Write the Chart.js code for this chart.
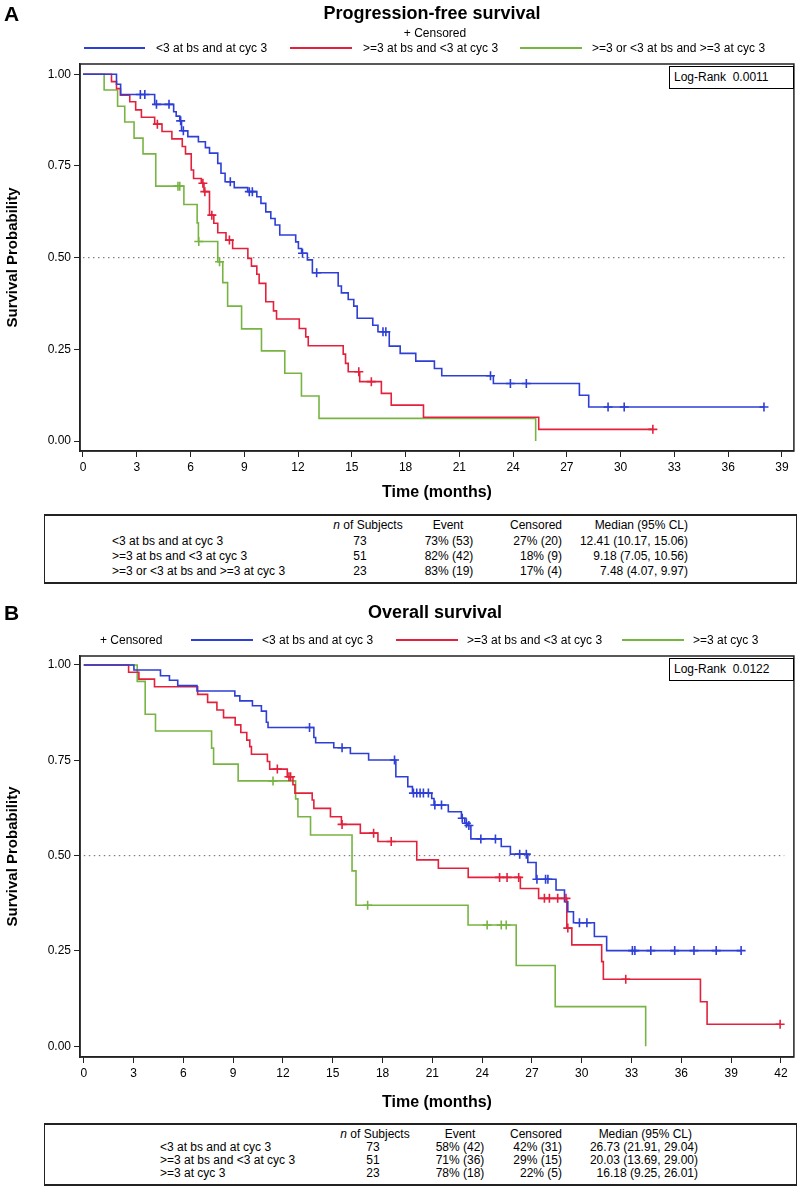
<!DOCTYPE html>
<html><head><meta charset="utf-8">
<script src="https://cdn.jsdelivr.net/npm/chart.js@4.4.1/dist/chart.umd.min.js"></script>
<style>
body{margin:0;background:#fff;font-family:Arial,"Liberation Sans",Helvetica,sans-serif;color:#000}
#page{position:relative;width:800px;height:1187px;overflow:hidden;background:#fff}
canvas{position:absolute;left:0}
.t{position:absolute;white-space:nowrap;line-height:1;font-size:12px}
.c{transform:translate(-50%,-50%)}
.l{transform:translateY(-50%)}
.r{transform:translate(-100%,-50%)}
.ttl{font-weight:bold;font-size:18px}
.pl{font-weight:bold;font-size:21px}
.ln{position:absolute;height:2px}
.box{position:absolute;border:1px solid #000;background:#fff}
.tbl{position:absolute;border:1.5px solid #222;border-top-width:2px;border-bottom-width:2px;box-sizing:border-box}
</style></head>
<body><div id="page">
<canvas id="cA" width="800" height="510" style="top:0"></canvas>
<canvas id="cB" width="800" height="530" style="top:592px"></canvas>

<!-- Panel A texts -->
<div class="t pl l" style="left:4px;top:13px">A</div>
<div class="t ttl c" style="left:432px;top:13px">Progression-free survival</div>
<div class="t c" style="left:435px;top:33px">+ Censored</div>
<div class="ln" style="left:84px;width:61px;top:47px;background:#2e3fd6"></div>
<div class="t l" style="left:156px;top:48px">&lt;3 at bs and at cyc 3</div>
<div class="ln" style="left:290px;width:62px;top:47px;background:#e3213c"></div>
<div class="t l" style="left:363px;top:48px">&gt;=3 at bs and &lt;3 at cyc 3</div>
<div class="ln" style="left:520px;width:62px;top:47px;background:#78b443"></div>
<div class="t l" style="left:592px;top:48px">&gt;=3 or &lt;3 at bs and &gt;=3 at cyc 3</div>
<div class="box" style="left:669px;top:66px;width:123px;height:21px"></div>
<div class="t l" style="left:674px;top:77px">Log-Rank&nbsp;&nbsp;0.0011</div>

<div class="tbl" style="left:44px;top:514px;width:753px;height:70px"></div>
<div class="t c" style="left:368px;top:525px"><i>n</i> of Subjects</div>
<div class="t c" style="left:448px;top:525px">Event</div>
<div class="t r" style="left:562px;top:525px">Censored</div>
<div class="t r" style="left:688px;top:525px">Median (95% CL)</div>
<div class="t l" style="left:112px;top:541px">&lt;3 at bs and at cyc 3</div>
<div class="t c" style="left:360px;top:541px">73</div>
<div class="t c" style="left:449px;top:541px">73% (53)</div>
<div class="t r" style="left:562px;top:541px">27% (20)</div>
<div class="t r" style="left:688px;top:541px">12.41 (10.17, 15.06)</div>
<div class="t l" style="left:112px;top:556px">&gt;=3 at bs and &lt;3 at cyc 3</div>
<div class="t c" style="left:360px;top:556px">51</div>
<div class="t c" style="left:449px;top:556px">82% (42)</div>
<div class="t r" style="left:562px;top:556px">18% (9)</div>
<div class="t r" style="left:688px;top:556px">9.18 (7.05, 10.56)</div>
<div class="t l" style="left:112px;top:571px">&gt;=3 or &lt;3 at bs and &gt;=3 at cyc 3</div>
<div class="t c" style="left:360px;top:571px">23</div>
<div class="t c" style="left:449px;top:571px">83% (19)</div>
<div class="t r" style="left:562px;top:571px">17% (4)</div>
<div class="t r" style="left:688px;top:571px">7.48 (4.07, 9.97)</div>

<!-- Panel B texts -->
<div class="t pl l" style="left:4px;top:612px">B</div>
<div class="t ttl c" style="left:435px;top:612px">Overall survival</div>
<div class="t l" style="left:100px;top:640px">+ Censored</div>
<div class="ln" style="left:191px;width:62px;top:639px;background:#2e3fd6"></div>
<div class="t l" style="left:262px;top:640px">&lt;3 at bs and at cyc 3</div>
<div class="ln" style="left:396px;width:62px;top:639px;background:#e3213c"></div>
<div class="t l" style="left:467px;top:640px">&gt;=3 at bs and &lt;3 at cyc 3</div>
<div class="ln" style="left:622px;width:62px;top:639px;background:#78b443"></div>
<div class="t l" style="left:693px;top:640px">&gt;=3 at cyc 3</div>
<div class="box" style="left:669px;top:658px;width:123px;height:21px"></div>
<div class="t l" style="left:674px;top:669px">Log-Rank&nbsp;&nbsp;0.0122</div>

<div class="tbl" style="left:44px;top:1123px;width:753px;height:63px"></div>
<div class="t c" style="left:375px;top:1134px"><i>n</i> of Subjects</div>
<div class="t c" style="left:460px;top:1134px">Event</div>
<div class="t r" style="left:562px;top:1134px">Censored</div>
<div class="t r" style="left:692px;top:1134px">Median (95% CL)</div>
<div class="t l" style="left:160px;top:1147px">&lt;3 at bs and at cyc 3</div>
<div class="t c" style="left:373px;top:1147px">73</div>
<div class="t c" style="left:460px;top:1147px">58% (42)</div>
<div class="t r" style="left:562px;top:1147px">42% (31)</div>
<div class="t r" style="left:698px;top:1147px">26.73 (21.91, 29.04)</div>
<div class="t l" style="left:160px;top:1160px">&gt;=3 at bs and &lt;3 at cyc 3</div>
<div class="t c" style="left:373px;top:1160px">51</div>
<div class="t c" style="left:460px;top:1160px">71% (36)</div>
<div class="t r" style="left:562px;top:1160px">29% (15)</div>
<div class="t r" style="left:698px;top:1160px">20.03 (13.69, 29.00)</div>
<div class="t l" style="left:160px;top:1173px">&gt;=3 at cyc 3</div>
<div class="t c" style="left:373px;top:1173px">23</div>
<div class="t c" style="left:460px;top:1173px">78% (18)</div>
<div class="t r" style="left:562px;top:1173px">22% (5)</div>
<div class="t r" style="left:698px;top:1173px">16.18 (9.25, 26.01)</div>
</div>

<script>
// ---------- Tick labels ----------
const pfsTicksX = [0,3,6,9,12,15,18,21,24,27,30,33,36,39];
const osTicksX  = [0,3,6,9,12,15,18,21,24,27,30,33,36,39,42];
const yTickVals = [0,0.25,0.5,0.75,1];

// ---------- Panel A: Progression-free survival ----------
const pfsBlueT = [0,1.87,2.1,4.0,5.06,5.2,5.4,5.5,5.85,6.44,6.83,7.06,7.52,7.7,7.93,8.44,9.19,9.7,9.93,10.2,10.48,10.72,10.98,11.87,12.02,12.2,12.52,12.8,14.24,14.42,14.8,15.11,15.3,16.17,16.46,17.09,17.7,18.57,19.61,20.02,22.9,27.7,28.22,38.0];
const pfsBlueS = [1,0.973,0.945,0.918,0.898,0.886,0.873,0.846,0.83,0.816,0.80,0.785,0.757,0.73,0.707,0.691,0.68,0.666,0.648,0.625,0.607,0.589,0.562,0.543,0.525,0.512,0.494,0.459,0.423,0.404,0.386,0.368,0.335,0.316,0.298,0.259,0.239,0.218,0.198,0.178,0.157,0.125,0.093,0.093];
const pfsBlueCens = [3.2,3.45,4.1,4.8,5.45,5.6,8.22,9.28,9.45,12.25,13.04,16.74,16.9,22.74,23.85,24.74,29.3,30.2,38.0];

const pfsRedT = [0,1.59,1.87,2.09,2.61,2.94,3.26,4.0,4.41,4.96,5.54,5.72,6.04,6.17,6.6,6.75,7.06,7.3,7.52,7.98,8.35,9.2,9.4,9.7,9.83,10.2,10.63,10.8,12.07,12.43,12.57,14.52,14.65,14.8,15.44,16.65,17.2,19.0,25.43,31.8];
const pfsRedS = [1,0.98,0.961,0.943,0.925,0.903,0.883,0.864,0.844,0.824,0.803,0.783,0.739,0.716,0.703,0.68,0.616,0.594,0.568,0.548,0.525,0.498,0.477,0.455,0.43,0.38,0.355,0.333,0.307,0.284,0.26,0.237,0.212,0.189,0.162,0.130,0.098,0.065,0.032,0.032];
const pfsRedCens = [4.15,6.69,6.8,7.19,8.17,15.39,16.09,31.8];

const pfsGreenT = [0,1.18,1.93,2.33,2.85,3.35,4.06,5.63,6.37,6.44,7.52,7.8,8.07,8.85,9.96,11.26,12.19,13.17,25.26];
const pfsGreenS = [1,0.957,0.913,0.870,0.826,0.783,0.695,0.645,0.595,0.544,0.489,0.432,0.368,0.306,0.246,0.185,0.123,0.062,0.0];
const pfsGreenCens = [5.3,5.4,6.46,7.62];

// ---------- Panel B: Overall survival ----------
const osBlueT = [0,3.02,4.62,5.16,5.66,6.82,9.1,9.4,10.16,10.7,11.0,11.1,13.86,13.97,15.06,16.06,17.16,18.8,19.52,19.8,20.96,21.1,21.96,22.75,22.95,23.1,23.32,25.15,25.7,26.75,27.25,28.45,28.96,29.16,29.5,30.76,31.5,39.6];
const osBlueS = [1,0.987,0.972,0.96,0.946,0.932,0.919,0.906,0.893,0.879,0.85,0.836,0.81,0.796,0.783,0.768,0.751,0.707,0.681,0.664,0.65,0.633,0.615,0.598,0.585,0.579,0.544,0.524,0.504,0.482,0.438,0.41,0.379,0.353,0.324,0.288,0.251,0.251];
const osBlueCens = [13.6,15.56,18.72,19.86,20.06,20.26,20.46,20.76,21.15,21.55,22.8,23.05,23.2,23.92,24.8,26.26,26.66,27.3,27.82,27.96,29.86,30.31,33.05,33.2,34.16,35.6,36.76,38.1,39.6];

const osRedT = [0,2.7,3.32,4.26,6.86,7.46,8.02,8.42,9.12,9.46,9.82,10.0,10.1,11.06,11.2,12.26,12.6,12.72,13.76,13.86,14.86,15.52,16.66,17.72,20.06,21.36,23.16,26.3,27.4,29.1,29.4,31.2,31.3,37.15,37.55,41.95];
const osRedS = [1,0.981,0.963,0.943,0.923,0.902,0.882,0.862,0.843,0.823,0.803,0.786,0.766,0.747,0.727,0.707,0.686,0.664,0.646,0.624,0.602,0.582,0.559,0.537,0.489,0.467,0.443,0.414,0.388,0.31,0.266,0.222,0.176,0.117,0.058,0.058];
const osRedCens = [11.66,12.36,12.46,15.56,17.46,18.52,25.05,25.5,26.2,27.75,28.05,28.55,29.05,29.16,32.65,41.95];

const osGreenT = [0,3.22,3.7,4.32,7.7,7.82,9.3,12.76,12.9,13.66,16.16,16.4,23.15,26.05,28.4,33.85];
const osGreenS = [1,0.957,0.871,0.827,0.782,0.74,0.696,0.649,0.602,0.554,0.46,0.37,0.318,0.212,0.104,0.0];
const osGreenCens = [11.4,17.1,24.3,25.15,25.45];

// ---------- helpers ----------
const FAM = 'Arial, "Liberation Sans", Helvetica, sans-serif';
const BLUE='#2e3fd6', RED='#e3213c', GREEN='#78b443';

function stepAt(T,S,t){let v=S[0];for(let i=0;i<T.length;i++){if(T[i]<=t+1e-9)v=S[i];}return v;}
function curve(T,S,color){
  return {data:T.map((t,i)=>({x:t,y:S[i]})),borderColor:color,borderWidth:1.6,stepped:'before',
          pointRadius:0,fill:false,tension:0};
}
function cens(T,S,C,color){
  return {data:C.map(t=>({x:t,y:stepAt(T,S,t)})),showLine:false,borderColor:color,backgroundColor:color,
          pointStyle:'cross',pointRadius:4.5,pointBorderWidth:1.6,pointHoverRadius:4.5};
}
function refLine(x0,x1){
  return {data:[{x:x0,y:0.5},{x:x1,y:0.5}],borderColor:'#666',borderWidth:1,borderDash:[1.5,3.5],pointRadius:0,fill:false};
}
const framePlugin={id:'frame',beforeDatasetsDraw(chart){const a=chart.chartArea,c=chart.ctx;c.save();c.strokeStyle='#222';c.lineWidth=1.5;c.strokeRect(a.left,a.top,a.right-a.left,a.bottom-a.top);c.restore();}};

function makeChart(id,cfg){
  new Chart(document.getElementById(id),{
    type:'line',
    data:{datasets:cfg.datasets},
    options:{
      responsive:false,animation:false,events:[],
      layout:{padding:{left:0,right:3,top:64,bottom:0}},
      plugins:{legend:{display:false},tooltip:{enabled:false}},
      scales:{
        x:{type:'linear',min:cfg.xmin,max:cfg.xmax,
           afterBuildTicks:s=>{s.ticks=cfg.xticks.map(v=>({value:v}));},
           afterFit:s=>{s.height=cfg.xh;},
           grid:{display:true,drawOnChartArea:false,drawTicks:true,tickLength:6,color:'#222',lineWidth:1},
           border:{display:true,color:'#222',width:1.5},
           ticks:{color:'#000',font:{size:12,family:FAM},padding:3,maxRotation:0,autoSkip:false,callback:v=>String(v)},
           title:{display:true,text:'Time (months)',color:'#000',font:{size:16,weight:'bold',family:FAM},padding:{top:2,bottom:cfg.xtpad}}
        },
        y:{type:'linear',min:cfg.ymin,max:cfg.ymax,
           afterBuildTicks:s=>{s.ticks=yTickVals.map(v=>({value:v}));},
           afterFit:s=>{s.width=80;},
           grid:{display:true,drawOnChartArea:false,drawTicks:true,tickLength:6,color:'#222',lineWidth:1},
           border:{display:true,color:'#222',width:1.5},
           ticks:{color:'#000',font:{size:12,family:FAM},padding:3,callback:v=>Number(v).toFixed(2)},
           title:{display:true,text:'Survival Probability',color:'#000',font:{size:15,weight:'bold',family:FAM},padding:{top:4,bottom:0}}
        }
      }
    },
    plugins:[framePlugin]
  });
}

makeChart('cA',{
  xmin:-0.167,xmax:39.67,ymin:-0.027,ymax:1.028,xticks:pfsTicksX,xh:59,xtpad:8,
  datasets:[
    cens(pfsBlueT,pfsBlueS,pfsBlueCens,BLUE),
    cens(pfsRedT,pfsRedS,pfsRedCens,RED),
    cens(pfsGreenT,pfsGreenS,pfsGreenCens,GREEN),
    curve(pfsBlueT,pfsBlueS,BLUE),
    curve(pfsRedT,pfsRedS,RED),
    curve(pfsGreenT,pfsGreenS,GREEN),
    refLine(0,39.3)
  ]
});
makeChart('cB',{
  xmin:-0.228,xmax:42.78,ymin:-0.028,ymax:1.0236,xticks:osTicksX,xh:65,xtpad:10,
  datasets:[
    cens(osBlueT,osBlueS,osBlueCens,BLUE),
    cens(osRedT,osRedS,osRedCens,RED),
    cens(osGreenT,osGreenS,osGreenCens,GREEN),
    curve(osBlueT,osBlueS,BLUE),
    curve(osRedT,osRedS,RED),
    curve(osGreenT,osGreenS,GREEN),
    refLine(0,42.2)
  ]
});
</script>
</body></html>
